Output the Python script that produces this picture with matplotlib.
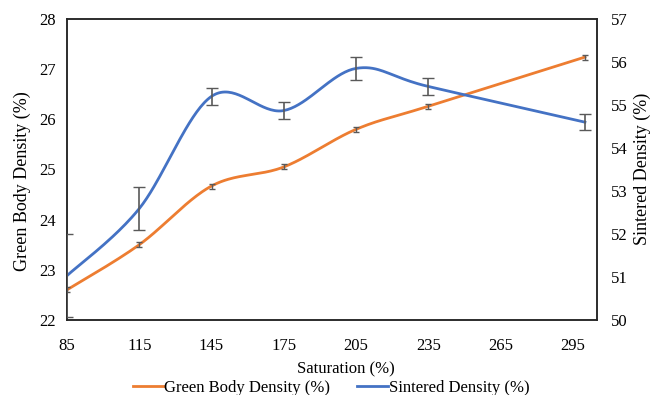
import numpy as np
import matplotlib.pyplot as plt

plt.rcParams['font.family'] = ['Liberation Serif', 'DejaVu Serif']

saturation = [85, 115, 145, 175, 205, 235, 300]
green_density = [22.6, 23.5, 24.67, 25.05, 25.8, 26.26, 27.24]
green_err = [0.05, 0.05, 0.05, 0.05, 0.05, 0.05, 0.05]
sintered_density = [51.03, 52.59, 55.2, 54.87, 55.85, 55.43, 54.6]
sintered_err = [0.96, 0.5, 0.2, 0.2, 0.27, 0.2, 0.18]
xticks = [85, 115, 145, 175, 205, 235, 265, 295]

ORANGE = '#ED7D31'
BLUE = '#4472C4'
GREY = '#595959'


def smooth(xs, ys, n=40):
    # Catmull-Rom through the points (like Excel's smoothed line)
    p = np.column_stack([xs, ys]).astype(float)
    p = np.vstack([p[0], p, p[-1]])
    out = []
    t = np.linspace(0, 1, n)[:, None]
    for i in range(1, len(p) - 2):
        p0, p1, p2, p3 = p[i - 1], p[i], p[i + 1], p[i + 2]
        c1 = p1 + (p2 - p0) / 6
        c2 = p2 - (p3 - p1) / 6
        seg = ((1 - t) ** 3 * p1 + 3 * (1 - t) ** 2 * t * c1
               + 3 * (1 - t) * t ** 2 * c2 + t ** 3 * p2)
        out.append(seg if i == 1 else seg[1:])
    out = np.vstack(out)
    return out[:, 0], out[:, 1]


fig = plt.figure(figsize=(6.6, 3.95), dpi=100)
ax = fig.add_axes([0.1015, 0.19, 0.803, 0.762])
ax2 = ax.twinx()

gx, gy = smooth(saturation, green_density)
ax.plot(gx, gy, color=ORANGE, lw=2, label='Green Body Density (%)', zorder=2)
ax.errorbar(saturation, green_density, yerr=green_err, fmt='none',
            ecolor=GREY, elinewidth=1, capsize=2.5, zorder=3)

sx, sy = smooth(saturation, sintered_density)
ax2.plot(sx, sy, color=BLUE, lw=2, label='Sintered Density (%)', zorder=2)
ax2.errorbar(saturation, sintered_density, yerr=sintered_err, fmt='none',
             ecolor=GREY, elinewidth=1.2, capsize=4, zorder=3)

ax.set_xlim(85, 305)
ax.set_ylim(22, 28)
ax2.set_ylim(50, 57)
ax.set_xticks(xticks)
ax.set_yticks(range(22, 29))
ax2.set_yticks(range(50, 58))

for a in (ax, ax2):
    a.tick_params(length=0, labelsize=12, colors='#000000')
    for s in a.spines.values():
        s.set_color('#262626')
        s.set_linewidth(1.1)
ax.tick_params(axis='x', pad=13)
ax.tick_params(axis='y', pad=8)
ax2.tick_params(axis='y', pad=10)

ax.set_xlabel('Saturation (%)', fontsize=12, va='center')
ax.xaxis.set_label_coords(0.526, -0.163)
ax.set_ylabel('Green Body Density (%)', fontsize=13, va='center')
ax.yaxis.set_label_coords(-0.085, 0.46)
ax2.set_ylabel('Sintered Density (%)', fontsize=13, va='center')
ax2.yaxis.set_label_coords(1.085, 0.502)

h1, l1 = ax.get_legend_handles_labels()
h2, l2 = ax2.get_legend_handles_labels()
fig.legend(h1 + h2, l1 + l2, loc='center', ncol=2, frameon=False,
           fontsize=12, handlelength=1.85, handletextpad=0.05,
           columnspacing=1.6, bbox_to_anchor=(331 / 660, 0.018))

fig.savefig('out.png', dpi=100)
